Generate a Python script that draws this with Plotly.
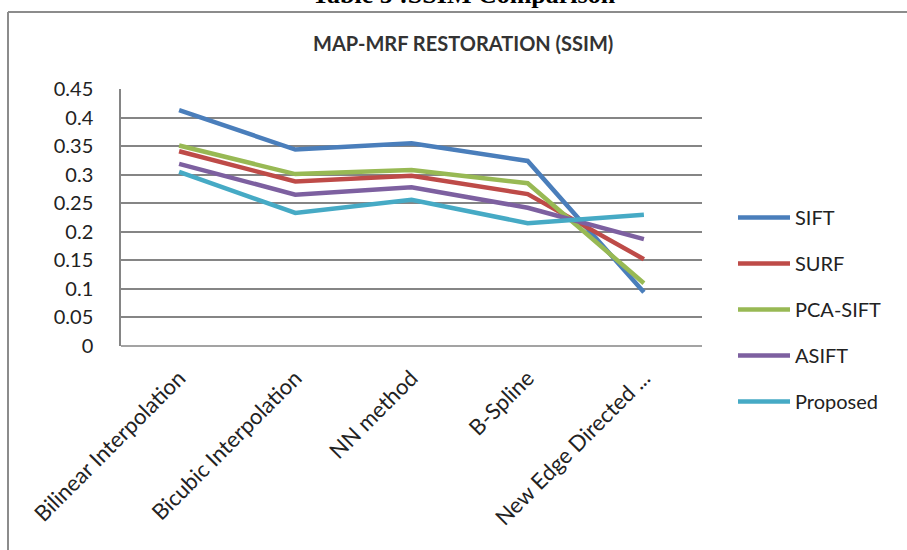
import plotly.graph_objects as go

categories = ["Bilinear Interpolation", "Bicubic Interpolation", "NN method", "B-Spline", "New Edge Directed ..."]
series_names = ["SIFT", "SURF", "PCA-SIFT", "ASIFT", "Proposed"]
sift = [0.413, 0.344, 0.355, 0.324, 0.094]
surf = [0.341, 0.288, 0.298, 0.266, 0.152]
pca_sift = [0.351, 0.301, 0.308, 0.285, 0.110]
asift = [0.319, 0.265, 0.278, 0.242, 0.187]
proposed = [0.305, 0.233, 0.256, 0.215, 0.230]
y_ticks = [0, 0.05, 0.1, 0.15, 0.2, 0.25, 0.3, 0.35, 0.4, 0.45]
y_tick_text = ["0", "0.05", "0.1", "0.15", "0.2", "0.25", "0.3", "0.35", "0.4", "0.45"]

colors = ["#4A7EBB", "#BE4B48", "#98B954", "#7D60A0", "#46AAC5"]
values = [sift, surf, pca_sift, asift, proposed]

W, H = 907, 550
L, R, T, B = 121, 702, 89, 346


def px(x):
    return (x - L) / (R - L)


def py(y):
    return (B - y) / (B - T)


fig = go.Figure()
for name, vals, col in zip(series_names, values, colors):
    fig.add_trace(go.Scatter(
        x=categories, y=vals, name=name, mode="lines",
        line=dict(color=col, width=4.5), legendgroup=name,
    ))

fig.update_layout(
    width=W, height=H,
    margin=dict(l=L, r=W - R, t=T, b=H - B),
    paper_bgcolor="white", plot_bgcolor="white",
    font=dict(family="Lato", color="#222222"),
    showlegend=True,
    legend=dict(
        x=px(733), y=py(198), xanchor="left", yanchor="top",
        font=dict(size=20, family="Lato", color="#222222"),
        tracegroupgap=17, itemwidth=52, bgcolor="rgba(0,0,0,0)",
    ),
    xaxis=dict(
        type="category", range=[-0.5, 4.5], showgrid=False, zeroline=False,
        showline=False, ticks="", tickangle=-45,
        tickfont=dict(size=22, family="Lato", color="#222222"),
        ticklabelstandoff=14,
    ),
    yaxis=dict(
        range=[0, 0.45], tickvals=y_ticks, ticktext=y_tick_text,
        showgrid=True, gridcolor="#858585", gridwidth=1.5,
        zeroline=False, showline=True, linecolor="#858585", linewidth=1.5,
        ticks="", tickfont=dict(size=20, family="Lato", color="#222222"),
        ticklabelstandoff=22,
    ),
    shapes=[
        dict(type="line", xref="paper", yref="paper",
             x0=px(8), x1=px(907), y0=py(12), y1=py(12),
             line=dict(color="#8c8c8c", width=2)),
        dict(type="line", xref="paper", yref="paper",
             x0=px(8), x1=px(8), y0=py(12), y1=py(550),
             line=dict(color="#8c8c8c", width=2)),
        dict(type="line", xref="paper", yref="paper",
             x0=0, x1=1, y0=0, y1=0,
             line=dict(color="#858585", width=1.5)),
    ],
    annotations=[
        dict(text="<b>MAP-MRF RESTORATION (SSIM)</b>", xref="paper", yref="paper",
             x=px(463), y=py(43), xanchor="center", yanchor="middle", showarrow=False,
             font=dict(size=20, family="Lato", color="#333333")),
        dict(text="<b>Table 5 :SSIM Comparison</b>", xref="paper", yref="paper",
             x=px(464), y=py(-6), xanchor="center", yanchor="middle", showarrow=False,
             font=dict(size=26, family="Liberation Serif", color="#000000")),
    ],
)

fig.write_html("out.html")
